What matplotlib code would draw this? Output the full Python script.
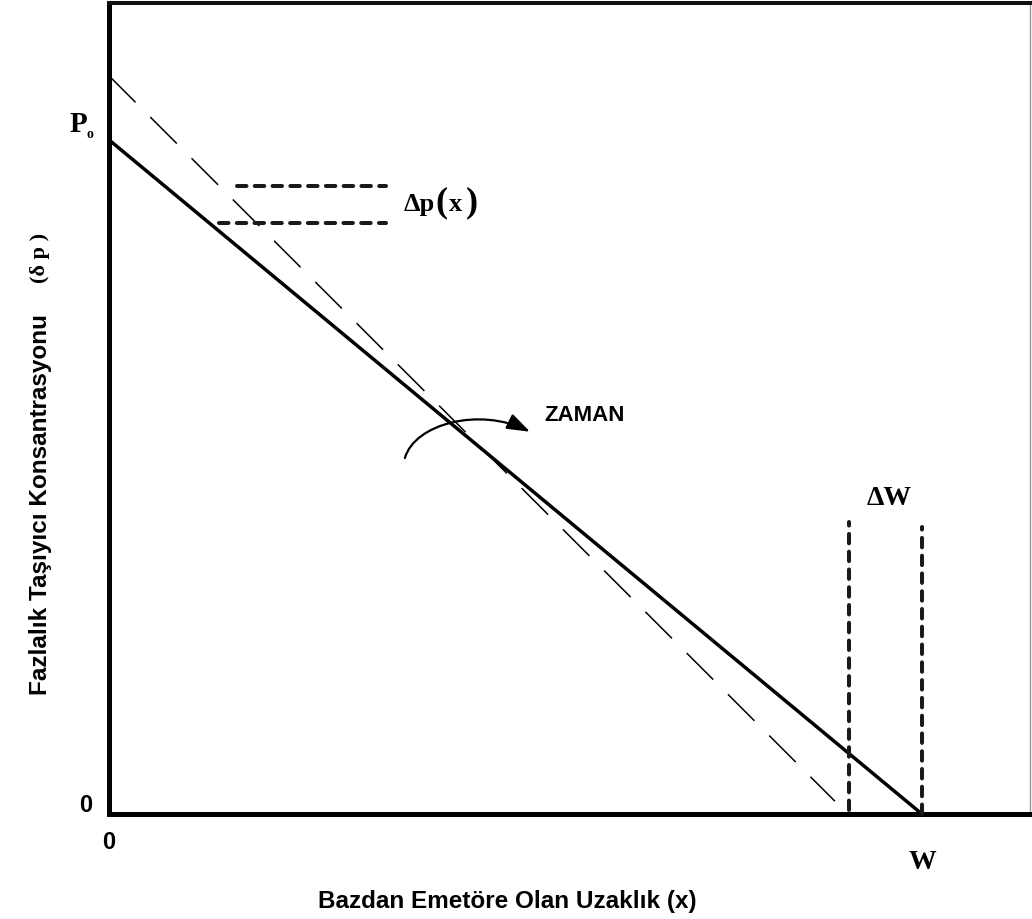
import matplotlib
matplotlib.use("Agg")
import matplotlib.pyplot as plt
from matplotlib.path import Path
from matplotlib.patches import FancyArrowPatch

plt.rcParams['lines.scale_dashes'] = False

# ---- data (x in units of base width W, concentration in units of P0) ----
x_solid = [0.0, 1.0]
p_solid = [1.0, 0.0]
x_dashed = [0.0, 0.893]
p_dashed = [1.095, 0.019]

dp_upper_x = [0.157, 0.341]
dp_upper_y = [0.932, 0.932]
dp_lower_x = [0.135, 0.341]
dp_lower_y = [0.877, 0.877]

dw_left_x = [0.910, 0.910]
dw_left_y = [0.006, 0.433]
dw_right_x = [1.0, 1.0]
dw_right_y = [0.0, 0.426]

zaman_arrow_x = [0.364, 0.376, 0.456, 0.518]
zaman_arrow_y = [0.528, 0.579, 0.604, 0.567]

x_lim = (0.0, 1.133)
y_lim = (0.0, 1.203)

W_px, H_px = 1032, 920
fig = plt.figure(figsize=(W_px / 100, H_px / 100), dpi=100)
ax = fig.add_axes([109 / W_px, (H_px - 815) / H_px, (1030 - 109) / W_px, (815 - 4) / H_px])
ax.set_xlim(*x_lim)
ax.set_ylim(*y_lim)
ax.set_xticks([])
ax.set_yticks([])

for s in ['left', 'bottom']:
    ax.spines[s].set_linewidth(3.6)
    ax.spines[s].set_color('black')
ax.spines['top'].set_linewidth(2.9)
ax.spines['top'].set_color('#111111')
ax.spines['right'].set_linewidth(1.0)
ax.spines['right'].set_color('#999999')

# main lines
ax.plot(x_solid, p_solid, color='black', lw=2.5, solid_capstyle='butt', zorder=3)
ax.plot(x_dashed, p_dashed, color='black', lw=1.1, dashes=(27, 15), zorder=3)

# delta p / delta W markers
for xs, ys in [(dp_upper_x, dp_upper_y), (dp_lower_x, dp_lower_y),
               (dw_left_x, dw_left_y), (dw_right_x, dw_right_y)]:
    ax.plot(xs, ys, color='#1a1a1a', lw=2.9, dashes=(6.8, 6.0),
            dash_capstyle='round', zorder=4, clip_on=False)

# ZAMAN arrow
verts = list(zip(zaman_arrow_x, zaman_arrow_y))
path = Path(verts, [Path.MOVETO, Path.CURVE4, Path.CURVE4, Path.CURVE4])
arr = FancyArrowPatch(path=path, arrowstyle='-|>,head_length=1.0,head_width=0.35',
                      mutation_scale=14, color='black', lw=1.6,
                      transform=ax.transData, zorder=5)
ax.add_patch(arr)

serif = 'Liberation Serif'
sans = 'Liberation Sans'

def px(xp, yp):
    return ((xp - 109) / 813, (815 - yp) / 674)

ax.text(*px(544, 416), 'ZAMAN', fontfamily=sans, fontweight='heavy', fontsize=16,
        ha='left', va='center')

# Delta p(x)
ax.text(*px(404, 211), 'Δp', fontfamily=serif, fontweight='bold', fontsize=19,
        ha='left', va='baseline', clip_on=False)
ax.text(*px(435, 203), '(', fontfamily=serif, fontweight='bold', fontsize=26,
        ha='left', va='center')
ax.text(*px(449, 211), 'x', fontfamily=serif, fontweight='bold', fontsize=19,
        ha='left', va='baseline')
ax.text(*px(466, 203), ')', fontfamily=serif, fontweight='bold', fontsize=26,
        ha='left', va='center')

# Delta W
ax.text(*px(889, 499), 'ΔW', fontfamily=serif, fontweight='bold', fontsize=20,
        ha='center', va='center')

# P0
ax.text(*px(87, 132), 'P', fontfamily=serif, fontweight='bold', fontsize=21,
        ha='right', va='baseline', clip_on=False)
ax.text(*px(90, 135), 'o', fontfamily=serif, fontweight='bold', fontsize=10,
        ha='center', va='center', clip_on=False)

# tick-like labels
ax.text(*px(86, 806), '0', fontfamily=sans, fontweight='bold', fontsize=17,
        ha='center', va='center', clip_on=False)
ax.text(*px(109, 842), '0', fontfamily=sans, fontweight='bold', fontsize=17,
        ha='center', va='center', clip_on=False)
ax.text(*px(923, 862), 'W', fontfamily=serif, fontweight='bold', fontsize=20,
        ha='center', va='center', clip_on=False)

# axis labels
ax.text(*px(507, 901), 'Bazdan Emetöre Olan Uzaklık (x)', fontfamily=sans,
        fontweight='bold', fontsize=17.5, ha='center', va='center', clip_on=False)
ax.text(*px(40, 505), 'Fazlalık Taşıyıcı Konsantrasyonu', fontfamily=sans,
        fontweight='bold', fontsize=17.5, ha='center', va='center', rotation=90,
        clip_on=False)
ax.text(*px(40, 258), '(δ p )', fontfamily=serif, fontweight='bold', fontsize=16,
        ha='center', va='center', rotation=90, clip_on=False)

fig.savefig('out.png', dpi=100)
